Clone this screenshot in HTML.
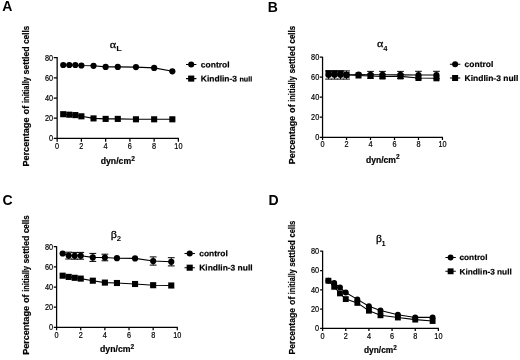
<!DOCTYPE html>
<html><head><meta charset="utf-8"><title>Figure</title>
<style>
html,body{margin:0;padding:0;background:#fff;}
body{width:520px;height:360px;overflow:hidden;font-family:"Liberation Sans",sans-serif;}
svg{display:block;}
text{fill:#000;}
.b{font-weight:bold;}
</style></head><body>
<svg width="520" height="360" viewBox="0 0 520 360">
<defs><filter id="soft" x="0" y="0" width="520" height="360" filterUnits="userSpaceOnUse"><feGaussianBlur stdDeviation="0.35"/></filter></defs>
<rect width="520" height="360" fill="#fff"/>
<g filter="url(#soft)">

<!-- panel A -->
<g>
<text x="2.23" y="11.3" font-family="Liberation Sans, sans-serif" class="b" font-size="14">A</text>
<path d="M57.15 57.1V138.4H178.9M57.15 138.4h-3.4M57.15 118.2h-3.4M57.15 98h-3.4M57.15 77.8h-3.4M57.15 57.6h-3.4M57.15 138.4v3.4M81.4 138.4v3.4M105.65 138.4v3.4M129.9 138.4v3.4M154.15 138.4v3.4M178.4 138.4v3.4" fill="none" stroke="#000" stroke-width="1.25"/>
<text transform="translate(53.15 141.37) scale(0.88 1)" font-family="Liberation Sans, sans-serif" font-size="8.3" text-anchor="end" stroke="#000" stroke-width="0.2">0</text>
<text transform="translate(53.15 121.17) scale(0.88 1)" font-family="Liberation Sans, sans-serif" font-size="8.3" text-anchor="end" stroke="#000" stroke-width="0.2">20</text>
<text transform="translate(53.15 100.97) scale(0.88 1)" font-family="Liberation Sans, sans-serif" font-size="8.3" text-anchor="end" stroke="#000" stroke-width="0.2">40</text>
<text transform="translate(53.15 80.77) scale(0.88 1)" font-family="Liberation Sans, sans-serif" font-size="8.3" text-anchor="end" stroke="#000" stroke-width="0.2">60</text>
<text transform="translate(53.15 60.57) scale(0.88 1)" font-family="Liberation Sans, sans-serif" font-size="8.3" text-anchor="end" stroke="#000" stroke-width="0.2">80</text>
<text transform="translate(57.15 149.3) scale(0.88 1)" font-family="Liberation Sans, sans-serif" font-size="8.3" text-anchor="middle" stroke="#000" stroke-width="0.2">0</text>
<text transform="translate(81.4 149.3) scale(0.88 1)" font-family="Liberation Sans, sans-serif" font-size="8.3" text-anchor="middle" stroke="#000" stroke-width="0.2">2</text>
<text transform="translate(105.65 149.3) scale(0.88 1)" font-family="Liberation Sans, sans-serif" font-size="8.3" text-anchor="middle" stroke="#000" stroke-width="0.2">4</text>
<text transform="translate(129.9 149.3) scale(0.88 1)" font-family="Liberation Sans, sans-serif" font-size="8.3" text-anchor="middle" stroke="#000" stroke-width="0.2">6</text>
<text transform="translate(154.15 149.3) scale(0.88 1)" font-family="Liberation Sans, sans-serif" font-size="8.3" text-anchor="middle" stroke="#000" stroke-width="0.2">8</text>
<text transform="translate(178.4 149.3) scale(0.88 1)" font-family="Liberation Sans, sans-serif" font-size="8.3" text-anchor="middle" stroke="#000" stroke-width="0.2">10</text>
<text transform="translate(29.3 166.6) rotate(-90)" font-family="Liberation Sans, sans-serif" class="b" font-size="9.5" textLength="49.1" lengthAdjust="spacingAndGlyphs" stroke="#000" stroke-width="0.2">Percentage</text>
<text transform="translate(29.3 114.4) rotate(-90)" font-family="Liberation Sans, sans-serif" class="b" font-size="9.5" textLength="8.7" lengthAdjust="spacingAndGlyphs" stroke="#000" stroke-width="0.2">of</text>
<text transform="translate(29.3 103.1) rotate(-90)" font-family="Liberation Sans, sans-serif" class="b" font-size="9.5" textLength="26.1" lengthAdjust="spacingAndGlyphs" stroke="#000" stroke-width="0.2">initially</text>
<text transform="translate(29.3 74.4) rotate(-90)" font-family="Liberation Sans, sans-serif" class="b" font-size="9.5" textLength="28" lengthAdjust="spacingAndGlyphs" stroke="#000" stroke-width="0.2">settled</text>
<text transform="translate(29.3 43.7) rotate(-90)" font-family="Liberation Sans, sans-serif" class="b" font-size="9.5" textLength="17.8" lengthAdjust="spacingAndGlyphs" stroke="#000" stroke-width="0.2">cells</text>
<text x="100.7" y="164.2" font-family="Liberation Sans, sans-serif" class="b" font-size="9.3" textLength="30.5" lengthAdjust="spacingAndGlyphs" stroke="#000" stroke-width="0.2">dyn/cm</text>
<text x="131.3" y="161" font-family="Liberation Sans, sans-serif" class="b" font-size="6.6" stroke="#000" stroke-width="0.2">2</text>
<text transform="translate(109.84 47.8) scale(1.17 1)" font-family="Liberation Serif, serif" font-size="10.4" stroke="#000" stroke-width="0.25">α</text>
<text transform="translate(116.27 51.2) scale(1.2 1)" font-family="Liberation Sans, sans-serif" class="b" font-size="7.8">L</text>
<path d="M63.21 65 L69.28 65 L75.34 65 L81.4 65.5 L93.53 65.8 L105.65 66.9 L117.78 66.9 L135.96 67.1 L154.15 67.9 L172.34 71.3" fill="none" stroke="#000" stroke-width="1.1"/>
<circle cx="63.21" cy="65" r="3.1"/>
<circle cx="69.28" cy="65" r="3.1"/>
<circle cx="75.34" cy="65" r="3.1"/>
<circle cx="81.4" cy="65.5" r="3.1"/>
<circle cx="93.53" cy="65.8" r="3.1"/>
<circle cx="105.65" cy="66.9" r="3.1"/>
<circle cx="117.78" cy="66.9" r="3.1"/>
<circle cx="135.96" cy="67.1" r="3.1"/>
<circle cx="154.15" cy="67.9" r="3.1"/>
<circle cx="172.34" cy="71.3" r="3.1"/>
<path d="M63.21 114.2 L69.28 114.7 L75.34 115.1 L81.4 116.3 L93.53 118.4 L105.65 118.9 L117.78 118.9 L135.96 119.3 L154.15 119.3 L172.34 119.3" fill="none" stroke="#000" stroke-width="1.1"/>
<rect x="60.16" y="111.15" width="6.1" height="6.1"/>
<rect x="66.23" y="111.65" width="6.1" height="6.1"/>
<rect x="72.29" y="112.05" width="6.1" height="6.1"/>
<rect x="78.35" y="113.25" width="6.1" height="6.1"/>
<rect x="90.48" y="115.35" width="6.1" height="6.1"/>
<rect x="102.6" y="115.85" width="6.1" height="6.1"/>
<rect x="114.73" y="115.85" width="6.1" height="6.1"/>
<rect x="132.91" y="116.25" width="6.1" height="6.1"/>
<rect x="151.1" y="116.25" width="6.1" height="6.1"/>
<rect x="169.29" y="116.25" width="6.1" height="6.1"/>
<path d="M186 64.5h10.4M186 78.6h10.4" stroke="#000" stroke-width="1.1" fill="none"/>
<circle cx="191.2" cy="64.5" r="3.05"/>
<rect x="188.15" y="75.55" width="6.1" height="6.1"/>
<text transform="translate(200.8 67.5) rotate(0.03) scale(1.03 1)" font-family="Liberation Sans, sans-serif" class="b" font-size="8.25" stroke="#000" stroke-width="0.2">control</text>
<text transform="translate(200.8 81.5) rotate(0.03) scale(1.03 1)" font-family="Liberation Sans, sans-serif" class="b" font-size="8.25" stroke="#000" stroke-width="0.2">Kindlin-3 <tspan font-size="6.99">null</tspan></text>
</g>
<!-- panel B -->
<g>
<text x="267.84" y="11.5" font-family="Liberation Sans, sans-serif" class="b" font-size="14">B</text>
<path d="M322.55 56.7V137.25H442.95M322.55 137.25h-2.8M322.55 117.24h-2.8M322.55 97.22h-2.8M322.55 77.21h-2.8M322.55 57.2h-2.8M322.55 137.25v2.8M346.53 137.25v2.8M370.51 137.25v2.8M394.49 137.25v2.8M418.47 137.25v2.8M442.45 137.25v2.8" fill="none" stroke="#000" stroke-width="1.25"/>
<text transform="translate(319.2 139.92) scale(0.88 1)" font-family="Liberation Sans, sans-serif" font-size="8.3" text-anchor="end" stroke="#000" stroke-width="0.2">0</text>
<text transform="translate(319.2 119.91) scale(0.88 1)" font-family="Liberation Sans, sans-serif" font-size="8.3" text-anchor="end" stroke="#000" stroke-width="0.2">20</text>
<text transform="translate(319.2 99.9) scale(0.88 1)" font-family="Liberation Sans, sans-serif" font-size="8.3" text-anchor="end" stroke="#000" stroke-width="0.2">40</text>
<text transform="translate(319.2 79.88) scale(0.88 1)" font-family="Liberation Sans, sans-serif" font-size="8.3" text-anchor="end" stroke="#000" stroke-width="0.2">60</text>
<text transform="translate(319.2 59.87) scale(0.88 1)" font-family="Liberation Sans, sans-serif" font-size="8.3" text-anchor="end" stroke="#000" stroke-width="0.2">80</text>
<text transform="translate(322.55 147.45) scale(0.88 1)" font-family="Liberation Sans, sans-serif" font-size="8.3" text-anchor="middle" stroke="#000" stroke-width="0.2">0</text>
<text transform="translate(346.53 147.45) scale(0.88 1)" font-family="Liberation Sans, sans-serif" font-size="8.3" text-anchor="middle" stroke="#000" stroke-width="0.2">2</text>
<text transform="translate(370.51 147.45) scale(0.88 1)" font-family="Liberation Sans, sans-serif" font-size="8.3" text-anchor="middle" stroke="#000" stroke-width="0.2">4</text>
<text transform="translate(394.49 147.45) scale(0.88 1)" font-family="Liberation Sans, sans-serif" font-size="8.3" text-anchor="middle" stroke="#000" stroke-width="0.2">6</text>
<text transform="translate(418.47 147.45) scale(0.88 1)" font-family="Liberation Sans, sans-serif" font-size="8.3" text-anchor="middle" stroke="#000" stroke-width="0.2">8</text>
<text transform="translate(442.45 147.45) scale(0.88 1)" font-family="Liberation Sans, sans-serif" font-size="8.3" text-anchor="middle" stroke="#000" stroke-width="0.2">10</text>
<text transform="translate(295.2 164.15) rotate(-90)" font-family="Liberation Sans, sans-serif" class="b" font-size="9.36" textLength="48.23" lengthAdjust="spacingAndGlyphs" stroke="#000" stroke-width="0.2">Percentage</text>
<text transform="translate(295.2 112.88) rotate(-90)" font-family="Liberation Sans, sans-serif" class="b" font-size="9.36" textLength="8.55" lengthAdjust="spacingAndGlyphs" stroke="#000" stroke-width="0.2">of</text>
<text transform="translate(295.2 101.78) rotate(-90)" font-family="Liberation Sans, sans-serif" class="b" font-size="9.36" textLength="25.64" lengthAdjust="spacingAndGlyphs" stroke="#000" stroke-width="0.2">initially</text>
<text transform="translate(295.2 73.59) rotate(-90)" font-family="Liberation Sans, sans-serif" class="b" font-size="9.36" textLength="27.5" lengthAdjust="spacingAndGlyphs" stroke="#000" stroke-width="0.2">settled</text>
<text transform="translate(295.2 43.44) rotate(-90)" font-family="Liberation Sans, sans-serif" class="b" font-size="9.36" textLength="17.48" lengthAdjust="spacingAndGlyphs" stroke="#000" stroke-width="0.2">cells</text>
<text x="365.96" y="162.6" font-family="Liberation Sans, sans-serif" class="b" font-size="9.16" textLength="30.04" lengthAdjust="spacingAndGlyphs" stroke="#000" stroke-width="0.2">dyn/cm</text>
<text x="396.1" y="159.45" font-family="Liberation Sans, sans-serif" class="b" font-size="6.5" stroke="#000" stroke-width="0.2">2</text>
<text transform="translate(376.94 47.2) scale(1.17 1)" font-family="Liberation Serif, serif" font-size="10.24" stroke="#000" stroke-width="0.25">α</text>
<text transform="translate(383.28 50.7) scale(1 1)" font-family="Liberation Sans, sans-serif" class="b" font-size="7.68">4</text>
<path d="M328.55 75 L334.54 75 L340.54 75 L346.53 75 L358.52 74.5 L370.51 74.8 L382.5 74.8 L400.49 74.9 L418.47 75 L436.45 75" fill="none" stroke="#000" stroke-width="1.08"/>
<path d="M328.55 70.9V79.1M325.2 70.9h6.7M325.2 79.1h6.7M334.54 70.9V79.1M331.19 70.9h6.7M331.19 79.1h6.7M340.54 70.9V79.1M337.19 70.9h6.7M337.19 79.1h6.7M346.53 70.9V79.1M343.18 70.9h6.7M343.18 79.1h6.7M370.51 71.4V78.2M367.16 71.4h6.7M367.16 78.2h6.7M382.5 71.4V78.2M379.15 71.4h6.7M379.15 78.2h6.7M400.49 71.4V78.4M397.14 71.4h6.7M397.14 78.4h6.7M418.47 71.3V78.7M415.12 71.3h6.7M415.12 78.7h6.7M436.45 71.3V78.7M433.11 71.3h6.7M433.11 78.7h6.7" fill="none" stroke="#000" stroke-width="0.98"/>
<circle cx="328.55" cy="75" r="3.05"/>
<circle cx="334.54" cy="75" r="3.05"/>
<circle cx="340.54" cy="75" r="3.05"/>
<circle cx="346.53" cy="75" r="3.05"/>
<circle cx="358.52" cy="74.5" r="3.05"/>
<circle cx="370.51" cy="74.8" r="3.05"/>
<circle cx="382.5" cy="74.8" r="3.05"/>
<circle cx="400.49" cy="74.9" r="3.05"/>
<circle cx="418.47" cy="75" r="3.05"/>
<circle cx="436.45" cy="75" r="3.05"/>
<path d="M328.55 73.2 L334.54 73.2 L340.54 73.3 L346.53 74.8 L358.52 75.5 L370.51 76 L382.5 76.5 L400.49 76.4 L418.47 78 L436.45 78.3" fill="none" stroke="#000" stroke-width="1.08"/>
<rect x="325.54" y="70.2" width="6.01" height="6.01"/>
<rect x="331.54" y="70.2" width="6.01" height="6.01"/>
<rect x="337.53" y="70.3" width="6.01" height="6.01"/>
<rect x="343.53" y="71.8" width="6.01" height="6.01"/>
<rect x="355.52" y="72.5" width="6.01" height="6.01"/>
<rect x="367.51" y="73" width="6.01" height="6.01"/>
<rect x="379.5" y="73.5" width="6.01" height="6.01"/>
<rect x="397.48" y="73.4" width="6.01" height="6.01"/>
<rect x="415.47" y="75" width="6.01" height="6.01"/>
<rect x="433.45" y="75.3" width="6.01" height="6.01"/>
<path d="M449.9 64.2h10.4M449.9 78h10.4" stroke="#000" stroke-width="1.08" fill="none"/>
<circle cx="455.1" cy="64.2" r="3"/>
<rect x="452.1" y="75" width="6.01" height="6.01"/>
<text transform="translate(464.6 66.9) rotate(0.03) scale(1.03 1)" font-family="Liberation Sans, sans-serif" class="b" font-size="8.25" stroke="#000" stroke-width="0.2">control</text>
<text transform="translate(464.6 80.9) rotate(0.03) scale(1.03 1)" font-family="Liberation Sans, sans-serif" class="b" font-size="8.25" stroke="#000" stroke-width="0.2">Kindlin-3 null</text>
</g>
<!-- panel C -->
<g>
<text x="2.61" y="205.1" font-family="Liberation Sans, sans-serif" class="b" font-size="14">C</text>
<path d="M56.6 246.2V327.3H177.8M56.6 327.3h-2.85M56.6 307.15h-2.85M56.6 287h-2.85M56.6 266.85h-2.85M56.6 246.7h-2.85M56.6 327.3v2.85M80.74 327.3v2.85M104.88 327.3v2.85M129.02 327.3v2.85M153.16 327.3v2.85M177.3 327.3v2.85" fill="none" stroke="#000" stroke-width="1.25"/>
<text transform="translate(53.1 330.27) scale(0.88 1)" font-family="Liberation Sans, sans-serif" font-size="8.3" text-anchor="end" stroke="#000" stroke-width="0.2">0</text>
<text transform="translate(53.1 310.12) scale(0.88 1)" font-family="Liberation Sans, sans-serif" font-size="8.3" text-anchor="end" stroke="#000" stroke-width="0.2">20</text>
<text transform="translate(53.1 289.97) scale(0.88 1)" font-family="Liberation Sans, sans-serif" font-size="8.3" text-anchor="end" stroke="#000" stroke-width="0.2">40</text>
<text transform="translate(53.1 269.82) scale(0.88 1)" font-family="Liberation Sans, sans-serif" font-size="8.3" text-anchor="end" stroke="#000" stroke-width="0.2">60</text>
<text transform="translate(53.1 249.67) scale(0.88 1)" font-family="Liberation Sans, sans-serif" font-size="8.3" text-anchor="end" stroke="#000" stroke-width="0.2">80</text>
<text transform="translate(56.6 338.2) scale(0.88 1)" font-family="Liberation Sans, sans-serif" font-size="8.3" text-anchor="middle" stroke="#000" stroke-width="0.2">0</text>
<text transform="translate(80.74 338.2) scale(0.88 1)" font-family="Liberation Sans, sans-serif" font-size="8.3" text-anchor="middle" stroke="#000" stroke-width="0.2">2</text>
<text transform="translate(104.88 338.2) scale(0.88 1)" font-family="Liberation Sans, sans-serif" font-size="8.3" text-anchor="middle" stroke="#000" stroke-width="0.2">4</text>
<text transform="translate(129.02 338.2) scale(0.88 1)" font-family="Liberation Sans, sans-serif" font-size="8.3" text-anchor="middle" stroke="#000" stroke-width="0.2">6</text>
<text transform="translate(153.16 338.2) scale(0.88 1)" font-family="Liberation Sans, sans-serif" font-size="8.3" text-anchor="middle" stroke="#000" stroke-width="0.2">8</text>
<text transform="translate(177.3 338.2) scale(0.88 1)" font-family="Liberation Sans, sans-serif" font-size="8.3" text-anchor="middle" stroke="#000" stroke-width="0.2">10</text>
<text transform="translate(29.3 354.7) rotate(-90)" font-family="Liberation Sans, sans-serif" class="b" font-size="9.5" textLength="48.61" lengthAdjust="spacingAndGlyphs" stroke="#000" stroke-width="0.2">Percentage</text>
<text transform="translate(29.3 303.02) rotate(-90)" font-family="Liberation Sans, sans-serif" class="b" font-size="9.5" textLength="8.61" lengthAdjust="spacingAndGlyphs" stroke="#000" stroke-width="0.2">of</text>
<text transform="translate(29.3 291.83) rotate(-90)" font-family="Liberation Sans, sans-serif" class="b" font-size="9.5" textLength="25.84" lengthAdjust="spacingAndGlyphs" stroke="#000" stroke-width="0.2">initially</text>
<text transform="translate(29.3 263.42) rotate(-90)" font-family="Liberation Sans, sans-serif" class="b" font-size="9.5" textLength="27.72" lengthAdjust="spacingAndGlyphs" stroke="#000" stroke-width="0.2">settled</text>
<text transform="translate(29.3 233.03) rotate(-90)" font-family="Liberation Sans, sans-serif" class="b" font-size="9.5" textLength="17.62" lengthAdjust="spacingAndGlyphs" stroke="#000" stroke-width="0.2">cells</text>
<text x="100" y="352.4" font-family="Liberation Sans, sans-serif" class="b" font-size="9.3" textLength="30.5" lengthAdjust="spacingAndGlyphs" stroke="#000" stroke-width="0.2">dyn/cm</text>
<text x="130.6" y="349.2" font-family="Liberation Sans, sans-serif" class="b" font-size="6.6" stroke="#000" stroke-width="0.2">2</text>
<text transform="translate(110.72 237.5) scale(1.17 1)" font-family="Liberation Serif, serif" font-size="10.4" stroke="#000" stroke-width="0.25">β</text>
<text transform="translate(116.73 240.5) scale(1 1)" font-family="Liberation Sans, sans-serif" class="b" font-size="7.8">2</text>
<path d="M62.64 253.5 L68.67 255.6 L74.71 255.8 L80.74 255.8 L92.81 257.4 L104.88 257.5 L116.95 258.2 L135.06 258.4 L153.16 261 L171.27 261.8" fill="none" stroke="#000" stroke-width="1.1"/>
<path d="M68.67 252.2V259M65.27 252.2h6.8M65.27 259h6.8M74.71 252.4V259.2M71.31 252.4h6.8M71.31 259.2h6.8M80.74 252.4V259.2M77.34 252.4h6.8M77.34 259.2h6.8M92.81 253.4V261.4M89.41 253.4h6.8M89.41 261.4h6.8M104.88 254.2V260.8M101.48 254.2h6.8M101.48 260.8h6.8M153.16 256.9V265.1M149.76 256.9h6.8M149.76 265.1h6.8M171.27 257.7V265.9M167.87 257.7h6.8M167.87 265.9h6.8" fill="none" stroke="#000" stroke-width="1"/>
<circle cx="62.64" cy="253.5" r="3.1"/>
<circle cx="68.67" cy="255.6" r="3.1"/>
<circle cx="74.71" cy="255.8" r="3.1"/>
<circle cx="80.74" cy="255.8" r="3.1"/>
<circle cx="92.81" cy="257.4" r="3.1"/>
<circle cx="104.88" cy="257.5" r="3.1"/>
<circle cx="116.95" cy="258.2" r="3.1"/>
<circle cx="135.06" cy="258.4" r="3.1"/>
<circle cx="153.16" cy="261" r="3.1"/>
<circle cx="171.27" cy="261.8" r="3.1"/>
<path d="M62.64 275.7 L68.67 276.9 L74.71 277.8 L80.74 278.6 L92.81 280.7 L104.88 282.6 L116.95 283 L135.06 284 L153.16 285.2 L171.27 285.5" fill="none" stroke="#000" stroke-width="1.1"/>
<rect x="59.59" y="272.65" width="6.1" height="6.1"/>
<rect x="65.62" y="273.85" width="6.1" height="6.1"/>
<rect x="71.66" y="274.75" width="6.1" height="6.1"/>
<rect x="77.69" y="275.55" width="6.1" height="6.1"/>
<rect x="89.76" y="277.65" width="6.1" height="6.1"/>
<rect x="101.83" y="279.55" width="6.1" height="6.1"/>
<rect x="113.9" y="279.95" width="6.1" height="6.1"/>
<rect x="132" y="280.95" width="6.1" height="6.1"/>
<rect x="150.11" y="282.15" width="6.1" height="6.1"/>
<rect x="168.22" y="282.45" width="6.1" height="6.1"/>
<path d="M184.5 253.5h10.4M184.5 267.7h10.4" stroke="#000" stroke-width="1.1" fill="none"/>
<circle cx="189.7" cy="253.5" r="3.05"/>
<rect x="186.65" y="264.65" width="6.1" height="6.1"/>
<text transform="translate(199.2 256.2) rotate(0.03) scale(1.03 1)" font-family="Liberation Sans, sans-serif" class="b" font-size="8.2" stroke="#000" stroke-width="0.2">control</text>
<text transform="translate(199.2 270.4) rotate(0.03) scale(1.03 1)" font-family="Liberation Sans, sans-serif" class="b" font-size="8.2" stroke="#000" stroke-width="0.2">Kindlin-3 null</text>
</g>
<!-- panel D -->
<g>
<text x="268.44" y="204.6" font-family="Liberation Sans, sans-serif" class="b" font-size="14">D</text>
<path d="M322.6 250.7V328.45H438.9M322.6 328.45h-2.5M322.6 309.14h-2.5M322.6 289.82h-2.5M322.6 270.51h-2.5M322.6 251.2h-2.5M322.6 328.45v2.5M345.76 328.45v2.5M368.92 328.45v2.5M392.08 328.45v2.5M415.24 328.45v2.5M438.4 328.45v2.5" fill="none" stroke="#000" stroke-width="1.25"/>
<text transform="translate(319.1 331.12) scale(0.88 1)" font-family="Liberation Sans, sans-serif" font-size="8.3" text-anchor="end" stroke="#000" stroke-width="0.2">0</text>
<text transform="translate(319.1 311.81) scale(0.88 1)" font-family="Liberation Sans, sans-serif" font-size="8.3" text-anchor="end" stroke="#000" stroke-width="0.2">20</text>
<text transform="translate(319.1 292.5) scale(0.88 1)" font-family="Liberation Sans, sans-serif" font-size="8.3" text-anchor="end" stroke="#000" stroke-width="0.2">40</text>
<text transform="translate(319.1 273.18) scale(0.88 1)" font-family="Liberation Sans, sans-serif" font-size="8.3" text-anchor="end" stroke="#000" stroke-width="0.2">60</text>
<text transform="translate(319.1 253.87) scale(0.88 1)" font-family="Liberation Sans, sans-serif" font-size="8.3" text-anchor="end" stroke="#000" stroke-width="0.2">80</text>
<text transform="translate(322.6 338.75) scale(0.88 1)" font-family="Liberation Sans, sans-serif" font-size="8.3" text-anchor="middle" stroke="#000" stroke-width="0.2">0</text>
<text transform="translate(345.76 338.75) scale(0.88 1)" font-family="Liberation Sans, sans-serif" font-size="8.3" text-anchor="middle" stroke="#000" stroke-width="0.2">2</text>
<text transform="translate(368.92 338.75) scale(0.88 1)" font-family="Liberation Sans, sans-serif" font-size="8.3" text-anchor="middle" stroke="#000" stroke-width="0.2">4</text>
<text transform="translate(392.08 338.75) scale(0.88 1)" font-family="Liberation Sans, sans-serif" font-size="8.3" text-anchor="middle" stroke="#000" stroke-width="0.2">6</text>
<text transform="translate(415.24 338.75) scale(0.88 1)" font-family="Liberation Sans, sans-serif" font-size="8.3" text-anchor="middle" stroke="#000" stroke-width="0.2">8</text>
<text transform="translate(438.4 338.75) scale(0.88 1)" font-family="Liberation Sans, sans-serif" font-size="8.3" text-anchor="middle" stroke="#000" stroke-width="0.2">10</text>
<text transform="translate(295.3 354.55) rotate(-90)" font-family="Liberation Sans, sans-serif" class="b" font-size="9.12" textLength="46.72" lengthAdjust="spacingAndGlyphs" stroke="#000" stroke-width="0.2">Percentage</text>
<text transform="translate(295.3 304.88) rotate(-90)" font-family="Liberation Sans, sans-serif" class="b" font-size="9.12" textLength="8.28" lengthAdjust="spacingAndGlyphs" stroke="#000" stroke-width="0.2">of</text>
<text transform="translate(295.3 294.13) rotate(-90)" font-family="Liberation Sans, sans-serif" class="b" font-size="9.12" textLength="24.84" lengthAdjust="spacingAndGlyphs" stroke="#000" stroke-width="0.2">initially</text>
<text transform="translate(295.3 266.82) rotate(-90)" font-family="Liberation Sans, sans-serif" class="b" font-size="9.12" textLength="26.64" lengthAdjust="spacingAndGlyphs" stroke="#000" stroke-width="0.2">settled</text>
<text transform="translate(295.3 237.6) rotate(-90)" font-family="Liberation Sans, sans-serif" class="b" font-size="9.12" textLength="16.94" lengthAdjust="spacingAndGlyphs" stroke="#000" stroke-width="0.2">cells</text>
<text x="363.99" y="352.6" font-family="Liberation Sans, sans-serif" class="b" font-size="8.93" textLength="29.28" lengthAdjust="spacingAndGlyphs" stroke="#000" stroke-width="0.2">dyn/cm</text>
<text x="393.37" y="349.53" font-family="Liberation Sans, sans-serif" class="b" font-size="6.34" stroke="#000" stroke-width="0.2">2</text>
<text transform="translate(376.05 241.8) scale(1.17 1)" font-family="Liberation Serif, serif" font-size="9.98" stroke="#000" stroke-width="0.25">β</text>
<text transform="translate(381.43 245.7) scale(1 1)" font-family="Liberation Sans, sans-serif" class="b" font-size="7.49">1</text>
<path d="M328.39 280.7 L334.18 283 L339.97 287.6 L345.76 292.5 L357.34 299.4 L368.92 306.3 L380.5 310.6 L397.87 314.8 L415.24 317.4 L432.61 317.4" fill="none" stroke="#000" stroke-width="1.06"/>
<circle cx="328.39" cy="280.7" r="2.98"/>
<circle cx="334.18" cy="283" r="2.98"/>
<circle cx="339.97" cy="287.6" r="2.98"/>
<circle cx="345.76" cy="292.5" r="2.98"/>
<circle cx="357.34" cy="299.4" r="2.98"/>
<circle cx="368.92" cy="306.3" r="2.98"/>
<circle cx="380.5" cy="310.6" r="2.98"/>
<circle cx="397.87" cy="314.8" r="2.98"/>
<circle cx="415.24" cy="317.4" r="2.98"/>
<circle cx="432.61" cy="317.4" r="2.98"/>
<path d="M328.39 280.7 L334.18 286.8 L339.97 293.4 L345.76 299.1 L357.34 302.9 L368.92 310.7 L380.5 315.3 L397.87 317.5 L415.24 319.6 L432.61 321" fill="none" stroke="#000" stroke-width="1.06"/>
<rect x="325.46" y="277.77" width="5.86" height="5.86"/>
<rect x="331.25" y="283.87" width="5.86" height="5.86"/>
<rect x="337.04" y="290.47" width="5.86" height="5.86"/>
<rect x="342.83" y="296.17" width="5.86" height="5.86"/>
<rect x="354.41" y="299.97" width="5.86" height="5.86"/>
<rect x="365.99" y="307.77" width="5.86" height="5.86"/>
<rect x="377.57" y="312.37" width="5.86" height="5.86"/>
<rect x="394.94" y="314.57" width="5.86" height="5.86"/>
<rect x="412.31" y="316.67" width="5.86" height="5.86"/>
<rect x="429.68" y="318.07" width="5.86" height="5.86"/>
<path d="M445.4 257.5h10.4M445.4 271.3h10.4" stroke="#000" stroke-width="1.06" fill="none"/>
<circle cx="450.6" cy="257.5" r="2.93"/>
<rect x="447.67" y="268.37" width="5.86" height="5.86"/>
<text transform="translate(459.5 260.1) rotate(0.03) scale(1.03 1)" font-family="Liberation Sans, sans-serif" class="b" font-size="8.01" stroke="#000" stroke-width="0.2">control</text>
<text transform="translate(459.5 274.5) rotate(0.03) scale(1.03 1)" font-family="Liberation Sans, sans-serif" class="b" font-size="8.01" stroke="#000" stroke-width="0.2">Kindlin-3 null</text>
</g>
</g>
</svg>
</body></html>
